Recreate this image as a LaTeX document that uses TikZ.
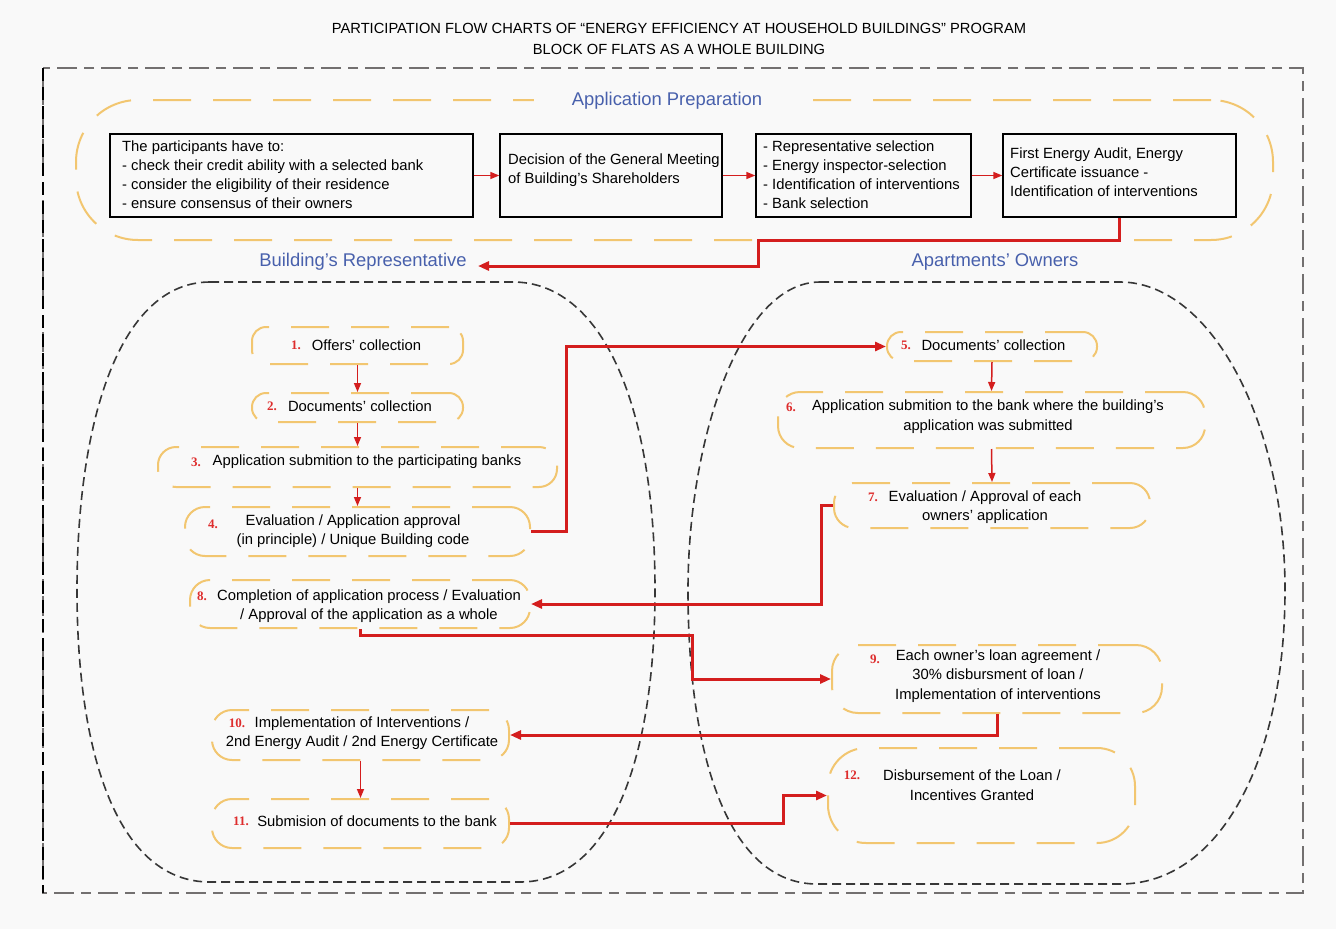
\documentclass[tikz,border=0pt]{standalone}
\usepackage{fontspec}
\setmainfont{Liberation Sans}
\newfontfamily\numfont{Liberation Serif}
\usetikzlibrary{arrows.meta}
\definecolor{bg}{RGB}{249,249,249}
\definecolor{framec}{RGB}{115,112,112}
\definecolor{orng}{RGB}{242,198,112}
\definecolor{redl}{RGB}{212,30,30}
\definecolor{numred}{RGB}{222,45,45}
\definecolor{lblue}{RGB}{72,96,172}
\definecolor{regionc}{RGB}{55,55,55}
\tikzset{
 txt/.style={font=\fontsize{14.8}{19.5}\selectfont, inner sep=0pt, align=center},
 ptxt/.style={font=\fontsize{14.8}{19}\selectfont, inner sep=0pt, align=left, anchor=west},
 pbox/.style={draw=black, line width=1.4pt, minimum height=83pt, inner sep=0pt},
 obox/.style={draw=orng, line width=2pt, dash pattern=on 38pt off 22pt, rounded corners=14pt, inner sep=0pt},
 num/.style={font=\numfont\bfseries\fontsize{13}{14}\selectfont, text=numred, inner sep=0pt},
 lbl/.style={font=\fontsize{18.4}{20}\selectfont, text=lblue, inner sep=0pt},
 conn/.style={draw=redl, line width=3pt, -{Triangle[length=11pt,width=9pt]}},
 sconn/.style={draw=redl, line width=1.5pt, -{Triangle[length=9pt,width=7pt]}},
 region/.style={draw=regionc, line width=1.6pt, dash pattern=on 9pt off 5pt},
}
\begin{document}
\begin{tikzpicture}[x=1pt,y=-1pt]
\fill[bg] (0,0) rectangle (1336,929);
\useasboundingbox (0,0) rectangle (1336,929);

% title
\node[txt, font=\fontsize{14.7}{16}\selectfont] (title1) at (679,28) {PARTICIPATION FLOW CHARTS OF “ENERGY EFFICIENCY AT HOUSEHOLD BUILDINGS” PROGRAM};
\node[txt, font=\fontsize{14.7}{16}\selectfont] (title2) at (679,49) {BLOCK OF FLATS AS A WHOLE BUILDING};

% outer frame
\draw[framec, line width=2.4pt, dash pattern=on 20pt off 7pt on 10pt off 7pt] (43,68) rectangle (1303,893);
\draw[black, line width=2.4pt, dash pattern=on 13pt off 6pt] (43,68) -- (43,893);

% application preparation container
\node[draw=orng, line width=2pt, dash pattern=on 38pt off 22pt, rounded corners=62pt, minimum width=1197pt, minimum height=140pt, inner sep=0pt] (appprep) at (674.5,170) {};
\node[lbl, fill=bg, inner xsep=38pt, inner ysep=4pt] (applbl) at (667,101) {Application Preparation};

% top boxes
\node[pbox, minimum width=363pt] (p1) at (291.5,175.5) {};
\node[pbox, minimum width=222pt] (p2) at (611,175.5) {};
\node[pbox, minimum width=215pt] (p3) at (863.5,175.5) {};
\node[pbox, minimum width=233pt] (p4) at (1119.5,175.5) {};
\node[ptxt] (p1t) at (122,174.5) {The participants have to:\\- check their credit ability with a selected bank\\- consider the eligibility of their residence\\- ensure consensus of their owners};
\node[ptxt] (p2t) at (508,170) {Decision of the General Meeting\\of Building’s Shareholders};
\node[ptxt] (p3t) at (763,175) {- Representative selection\\- Energy inspector-selection\\- Identification of interventions\\- Bank selection};
\node[ptxt] (p4t) at (1010,172) {First Energy Audit, Energy\\Certificate issuance -\\Identification of interventions};

% column labels
\node[lbl] (replbl) at (363,262) {Building’s Representative};
\node[lbl] (ownlbl) at (995,262) {Apartments’ Owners};

% regions
\draw[region] (210,282) -- (513,282) .. controls (600,282) and (655,400) .. (655,590) .. controls (655,760) and (610,882) .. (520,882) -- (210,882) .. controls (120,882) and (77,760) .. (77,590) .. controls (77,420) and (120,282) .. (210,282) -- cycle;
\draw[region] (820,282) -- (1120,282) .. controls (1210,282) and (1285,420) .. (1285,590) .. controls (1285,760) and (1220,884) .. (1120,884) -- (817,884) .. controls (730,884) and (688,760) .. (688,590) .. controls (688,440) and (740,282) .. (820,282) -- cycle;

% process boxes
\node[obox, minimum width=211pt, minimum height=37pt] (b1) at (357.5,345.5) {};
\node[obox, minimum width=211pt, minimum height=29pt] (b2) at (357.5,407.5) {};
\node[obox, minimum width=399pt, minimum height=40pt, rounded corners=18pt] (b3) at (357.5,467) {};
\node[obox, minimum width=345pt, minimum height=49pt, rounded corners=20pt] (b4) at (357.5,531.5) {};
\node[obox, minimum width=210pt, minimum height=29pt] (b5) at (992,346.5) {};
\node[obox, minimum width=427pt, minimum height=56pt, rounded corners=22pt] (b6) at (991.5,420) {};
\node[obox, minimum width=316pt, minimum height=45pt, rounded corners=20pt] (b7) at (992,505.5) {};
\node[obox, minimum width=340pt, minimum height=48pt, rounded corners=20pt] (b8) at (360,604) {};
\node[obox, minimum width=330pt, minimum height=68pt, rounded corners=26pt] (b9) at (997,679) {};
\node[obox, minimum width=297pt, minimum height=50pt, rounded corners=20pt] (b10) at (360.5,735) {};
\node[obox, minimum width=297pt, minimum height=49pt, rounded corners=20pt] (b11) at (360.5,823.5) {};
\node[obox, minimum width=307pt, minimum height=95pt, rounded corners=38pt] (b12) at (981.5,795.5) {};

% numbers
\node[num] (n1) at (296,345) {1.};
\node[num] (n2) at (272,406) {2.};
\node[num] (n3) at (196,462) {3.};
\node[num] (n4) at (213,524) {4.};
\node[num] (n5) at (906,345) {5.};
\node[num] (n6) at (791,407) {6.};
\node[num] (n7) at (873,497) {7.};
\node[num] (n8) at (202,596) {8.};
\node[num] (n9) at (875,659) {9.};
\node[num] (n10) at (237,723) {10.};
\node[num] (n11) at (241,821) {11.};
\node[num] (n12) at (852,775) {12.};

% texts
\node[txt] (t1) at (366.5,345) {Offers’ collection};
\node[txt] (t2) at (360,406) {Documents’ collection};
\node[txt] (t3) at (367,462) {Application submition to the participating banks};
\node[txt] (t4) at (353,531) {Evaluation / Application approval\\(in principle) / Unique Building code};
\node[txt] (t5) at (993.5,345) {Documents’ collection};
\node[txt] (t6) at (988,416.5) {Application submition to the bank where the building’s\\application was submitted};
\node[txt] (t7) at (985,507) {Evaluation / Approval of each\\owners’ application};
\node[txt] (t8) at (369,606) {Completion of application process / Evaluation\\/ Approval of the application as a whole};
\node[txt] (t9) at (998,676) {Each owner's loan agreement /\\30\% disbursment of loan /\\Implementation of interventions};
\node[txt] (t10) at (362,733) {Implementation of Interventions /\\2nd Energy Audit / 2nd Energy Certificate};
\node[txt] (t11) at (377,821) {Submision of documents to the bank};
\node[txt] (t12) at (972,785) {Disbursement of the Loan /\\Incentives Granted};

% connectors
\draw[sconn] (p1.east) -- (p2.west);
\draw[sconn] (p2.east) -- (p3.west);
\draw[sconn] (p3.east) -- (p4.west);
\coordinate (bendA) at (758,240);
\coordinate (repin) at (478,266);
\draw[conn] (p4.south) |- (bendA) |- (repin);

\draw[sconn] (b1.south) -- (b2.north);
\draw[sconn] (b2.south) -- (b3.north);
\draw[sconn] (b3.south) -- (b4.north);
\draw[conn] (b4.east) -- ++(35,0) |- (b5.west);
\draw[sconn] (b5.south) -- (b6.north);
\draw[sconn] (b6.south) -- (b7.north);
\draw[conn] (b7.west) -- ++(-12,0) |- (b8.east);
\coordinate (bendB) at (692,635);
\draw[conn] (b8.south) |- (bendB) |- (b9.west);
\draw[conn] (b9.south) |- (b10.east);
\draw[sconn] (b10.south) -- (b11.north);
\coordinate (bendC) at (783,823.5);
\draw[conn] (b11.east) -- (bendC) |- (b12.west);
\end{tikzpicture}
\end{document}
